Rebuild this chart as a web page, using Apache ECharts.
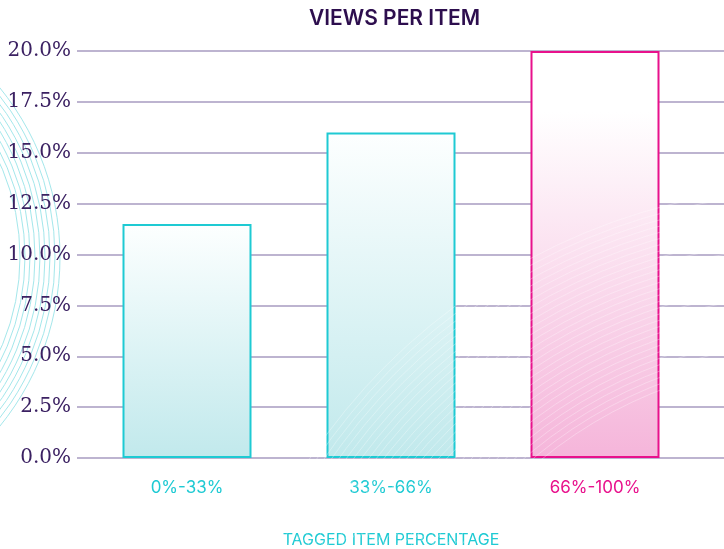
<!DOCTYPE html>
<html>
<head>
<meta charset="utf-8">
<script src="https://cdn.jsdelivr.net/npm/echarts@6/dist/echarts.min.js"></script>
<style>
  html, body { margin: 0; padding: 0; background: #fff; }
  #main { width: 724px; height: 549px; }
</style>
</head>
<body>
<div id="main"></div>
<script>
// data
var categories = ['0%-33%', '33%-66%', '66%-100%'];
var viewsPerItem = [11.5, 16.0, 20.0];
var yTicks = [0, 2.5, 5, 7.5, 10, 12.5, 15, 17.5, 20];

var teal = '#1ecad3';
var pink = '#e8118c';
var labelColors = [teal, teal, pink];

var myChart = echarts.init(document.getElementById('main'));

function tealFill() {
    return new echarts.graphic.LinearGradient(0, 0, 0, 1, [
        { offset: 0, color: '#fdffff' },
        { offset: 1, color: '#c1e9ec' }
    ]);
}
function pinkFill() {
    return new echarts.graphic.LinearGradient(0, 0, 0, 1, [
        { offset: 0, color: '#ffffff' },
        { offset: 0.15, color: '#ffffff' },
        { offset: 1, color: '#f5b5da' }
    ]);
}

// decorative rings: teal on the left, faint white over the lower right
var rings = [];
for (var i = 0; i < 9; i++) {
    rings.push({
        type: 'circle', z: -10, silent: true,
        shape: { cx: -208, cy: 257, r: 228 + i * 5 },
        style: { fill: null, stroke: '#a4e7eb', lineWidth: 1 }
    });
}
for (var j = 0; j < 30; j++) {
    rings.push({
        type: 'circle', z: 100, silent: true,
        shape: { cx: 820, cy: 800, r: 440 + j * 6 },
        style: { fill: null, stroke: 'rgba(255,255,255,0.3)', lineWidth: 1 }
    });
}

var option = {
    backgroundColor: '#ffffff',
    title: {
        text: 'VIEWS PER ITEM',
        left: 304,
        top: 3,
        textStyle: {
            color: '#2d0e4e',
            fontFamily: 'Inter',
            fontWeight: 600,
            fontSize: 21
        }
    },
    graphic: rings,
    grid: [
        { left: 77, right: 0, top: 51, bottom: 91, outerBoundsMode: 'none' },
        { left: 85, right: 27, top: 51, bottom: 91, outerBoundsMode: 'none' }
    ],
    xAxis: [
        { type: 'category', gridIndex: 0, data: categories, show: false },
        {
            type: 'category',
            gridIndex: 1,
            data: categories,
            axisLine: { show: false },
            axisTick: { show: false },
            axisLabel: {
                margin: 21,
                fontFamily: 'Inter',
                fontSize: 17,
                color: function (value, index) {
                    return labelColors[index];
                }
            },
            name: 'TAGGED ITEM PERCENTAGE',
            nameLocation: 'middle',
            nameGap: 74,
            nameTextStyle: {
                color: teal,
                fontFamily: 'Inter',
                fontSize: 16
            }
        }
    ],
    yAxis: [
        {
            type: 'value',
            gridIndex: 0,
            min: yTicks[0],
            max: yTicks[yTicks.length - 1],
            interval: 2.5,
            axisLine: { show: false },
            axisTick: { show: false },
            axisLabel: {
                margin: 6,
                fontFamily: 'DejaVu Serif',
                fontSize: 20,
                color: '#3b2162',
                formatter: function (v) { return v.toFixed(1) + '%'; }
            },
            splitLine: { lineStyle: { color: '#bdb4d0', width: 2 } }
        },
        {
            type: 'value',
            gridIndex: 1,
            min: yTicks[0],
            max: yTicks[yTicks.length - 1],
            interval: 2.5,
            show: false,
            splitLine: { show: false }
        }
    ],
    series: [
        {
            name: 'Views per item',
            type: 'bar',
            xAxisIndex: 1,
            yAxisIndex: 1,
            barWidth: 129,
            data: viewsPerItem.map(function (v, i) {
                var isPink = i === 2;
                return {
                    value: v,
                    itemStyle: {
                        color: isPink ? pinkFill() : tealFill(),
                        borderColor: isPink ? pink : teal,
                        borderWidth: 2
                    }
                };
            })
        }
    ]
};

myChart.setOption(option);
</script>
</body>
</html>
